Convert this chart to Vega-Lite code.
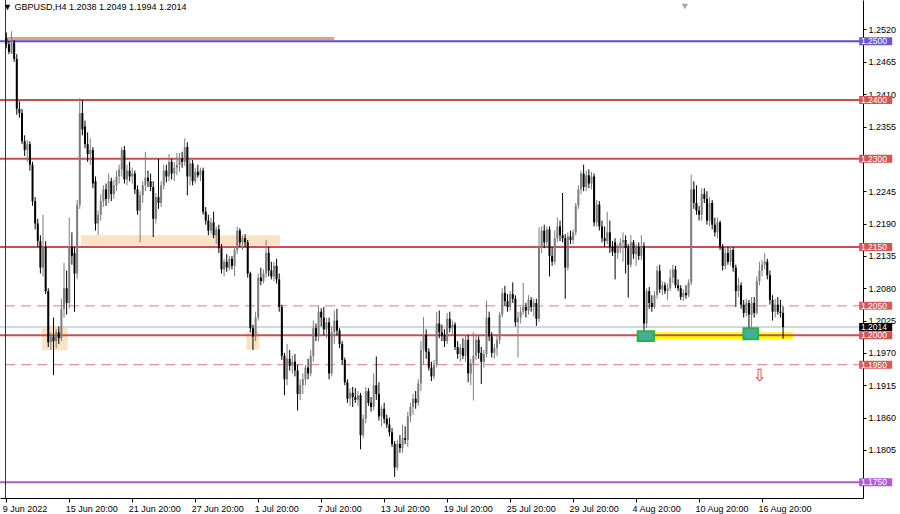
{
"$schema": "https://vega.github.io/schema/vega-lite/v6.json",
"width": 863, "height": 498,
"autosize": {"type": "none"},
"padding": {"left": 0, "top": 0, "right": 37, "bottom": 16},
"background": "#ffffff",
"config": {"view": {"stroke": null}, "font": "Liberation Sans", "axis": {"labelOverlap": false}},
"title": {"text": "▼ GBPUSD,H4  1.2038 1.2049 1.1994 1.2014", "anchor": "start", "frame": "group", "orient": "top", "offset": -12, "dx": 3, "fontSize": 9, "fontWeight": "normal", "font": "Liberation Sans", "color": "#000000"},
"datasets": {
"candles": [
{"i":0,"o":1.2505,"h":1.2515,"l":1.2488,"c":1.2495},
{"i":1,"o":1.2495,"h":1.2500,"l":1.2478,"c":1.2482},
{"i":2,"o":1.2480,"h":1.2517,"l":1.2478,"c":1.2498},
{"i":3,"o":1.2498,"h":1.2502,"l":1.2465,"c":1.2470},
{"i":4,"o":1.2470,"h":1.2478,"l":1.2375,"c":1.2385},
{"i":5,"o":1.2385,"h":1.2398,"l":1.2370,"c":1.2378},
{"i":6,"o":1.2378,"h":1.2385,"l":1.2325,"c":1.2330},
{"i":7,"o":1.2330,"h":1.2340,"l":1.2305,"c":1.2315},
{"i":8,"o":1.2315,"h":1.2332,"l":1.2295,"c":1.2325},
{"i":9,"o":1.2325,"h":1.2330,"l":1.2280,"c":1.2290},
{"i":10,"o":1.2290,"h":1.2295,"l":1.2220,"c":1.2228},
{"i":11,"o":1.2228,"h":1.2235,"l":1.2180,"c":1.2190},
{"i":12,"o":1.2190,"h":1.2198,"l":1.2150,"c":1.2160},
{"i":13,"o":1.2160,"h":1.2170,"l":1.2105,"c":1.2115},
{"i":14,"o":1.2115,"h":1.2205,"l":1.2100,"c":1.2150},
{"i":15,"o":1.2150,"h":1.2160,"l":1.2070,"c":1.2075},
{"i":16,"o":1.2075,"h":1.2080,"l":1.1980,"c":1.1988},
{"i":17,"o":1.1988,"h":1.2005,"l":1.1975,"c":1.1998},
{"i":18,"o":1.1998,"h":1.2030,"l":1.1932,"c":1.1990},
{"i":19,"o":1.1990,"h":1.2010,"l":1.1978,"c":1.2005},
{"i":20,"o":1.2005,"h":1.2015,"l":1.1985,"c":1.1995},
{"i":21,"o":1.1995,"h":1.2062,"l":1.1990,"c":1.2045},
{"i":22,"o":1.2045,"h":1.2123,"l":1.2030,"c":1.2080},
{"i":23,"o":1.2080,"h":1.2110,"l":1.2035,"c":1.2055},
{"i":24,"o":1.2055,"h":1.2200,"l":1.2045,"c":1.2150},
{"i":25,"o":1.2150,"h":1.2175,"l":1.2120,"c":1.2135},
{"i":26,"o":1.2140,"h":1.2150,"l":1.2040,"c":1.2105},
{"i":27,"o":1.2105,"h":1.2230,"l":1.2095,"c":1.2222},
{"i":28,"o":1.2222,"h":1.2403,"l":1.2215,"c":1.2378},
{"i":29,"o":1.2378,"h":1.2400,"l":1.2340,"c":1.2350},
{"i":30,"o":1.2355,"h":1.2365,"l":1.2318,"c":1.2325},
{"i":31,"o":1.2325,"h":1.2345,"l":1.2295,"c":1.2308},
{"i":32,"o":1.2308,"h":1.2335,"l":1.2290,"c":1.2315},
{"i":33,"o":1.2315,"h":1.2320,"l":1.2250,"c":1.2258},
{"i":34,"o":1.2262,"h":1.2270,"l":1.2178,"c":1.2190},
{"i":35,"o":1.2190,"h":1.2212,"l":1.2170,"c":1.2205},
{"i":36,"o":1.2205,"h":1.2240,"l":1.2195,"c":1.2228},
{"i":37,"o":1.2228,"h":1.2255,"l":1.2218,"c":1.2248},
{"i":38,"o":1.2248,"h":1.2258,"l":1.2220,"c":1.2232},
{"i":39,"o":1.2232,"h":1.2275,"l":1.2225,"c":1.2262},
{"i":40,"o":1.2262,"h":1.2268,"l":1.2228,"c":1.2240},
{"i":41,"o":1.2240,"h":1.2265,"l":1.2232,"c":1.2255},
{"i":42,"o":1.2255,"h":1.2280,"l":1.2245,"c":1.2270},
{"i":43,"o":1.2270,"h":1.2290,"l":1.2258,"c":1.2282},
{"i":44,"o":1.2282,"h":1.2320,"l":1.2270,"c":1.2315},
{"i":45,"o":1.2315,"h":1.2322,"l":1.2258,"c":1.2265},
{"i":46,"o":1.2265,"h":1.2290,"l":1.2255,"c":1.2280},
{"i":47,"o":1.2280,"h":1.2295,"l":1.2262,"c":1.2270},
{"i":48,"o":1.2270,"h":1.2285,"l":1.2258,"c":1.2275},
{"i":49,"o":1.2275,"h":1.2280,"l":1.2240,"c":1.2248},
{"i":50,"o":1.2248,"h":1.2255,"l":1.2205,"c":1.2212},
{"i":51,"o":1.2212,"h":1.2245,"l":1.2158,"c":1.2238},
{"i":52,"o":1.2238,"h":1.2262,"l":1.2225,"c":1.2255},
{"i":53,"o":1.2255,"h":1.2312,"l":1.2245,"c":1.2268},
{"i":54,"o":1.2268,"h":1.2280,"l":1.2252,"c":1.2262},
{"i":55,"o":1.2262,"h":1.2275,"l":1.2245,"c":1.2252},
{"i":56,"o":1.2252,"h":1.2262,"l":1.2167,"c":1.2198},
{"i":57,"o":1.2198,"h":1.2242,"l":1.2190,"c":1.2235},
{"i":58,"o":1.2235,"h":1.2300,"l":1.2215,"c":1.2225},
{"i":59,"o":1.2225,"h":1.2262,"l":1.2218,"c":1.2255},
{"i":60,"o":1.2255,"h":1.2290,"l":1.2248,"c":1.2280},
{"i":61,"o":1.2280,"h":1.2290,"l":1.2260,"c":1.2270},
{"i":62,"o":1.2270,"h":1.2308,"l":1.2262,"c":1.2295},
{"i":63,"o":1.2295,"h":1.2300,"l":1.2265,"c":1.2275},
{"i":64,"o":1.2275,"h":1.2295,"l":1.2262,"c":1.2285},
{"i":65,"o":1.2285,"h":1.2310,"l":1.2272,"c":1.2290},
{"i":66,"o":1.2290,"h":1.2310,"l":1.2278,"c":1.2300},
{"i":67,"o":1.2300,"h":1.2312,"l":1.2285,"c":1.2295},
{"i":68,"o":1.2295,"h":1.2335,"l":1.2288,"c":1.2320},
{"i":69,"o":1.2320,"h":1.2328,"l":1.2238,"c":1.2270},
{"i":70,"o":1.2270,"h":1.2302,"l":1.2255,"c":1.2292},
{"i":71,"o":1.2292,"h":1.2298,"l":1.2255,"c":1.2262},
{"i":72,"o":1.2262,"h":1.2285,"l":1.2258,"c":1.2278},
{"i":73,"o":1.2278,"h":1.2290,"l":1.2268,"c":1.2272},
{"i":74,"o":1.2272,"h":1.2285,"l":1.2262,"c":1.2280},
{"i":75,"o":1.2280,"h":1.2285,"l":1.2205,"c":1.2210},
{"i":76,"o":1.2210,"h":1.2218,"l":1.2188,"c":1.2195},
{"i":77,"o":1.2195,"h":1.2205,"l":1.2170,"c":1.2178},
{"i":78,"o":1.2178,"h":1.2200,"l":1.2172,"c":1.2192},
{"i":79,"o":1.2192,"h":1.2210,"l":1.2165,"c":1.2170},
{"i":80,"o":1.2170,"h":1.2185,"l":1.2155,"c":1.2180},
{"i":81,"o":1.2180,"h":1.2188,"l":1.2140,"c":1.2148},
{"i":82,"o":1.2148,"h":1.2155,"l":1.2105,"c":1.2112},
{"i":83,"o":1.2112,"h":1.2130,"l":1.2100,"c":1.2125},
{"i":84,"o":1.2125,"h":1.2138,"l":1.2108,"c":1.2115},
{"i":85,"o":1.2115,"h":1.2135,"l":1.2110,"c":1.2130},
{"i":86,"o":1.2130,"h":1.2135,"l":1.2112,"c":1.2118},
{"i":87,"o":1.2118,"h":1.2150,"l":1.2100,"c":1.2145},
{"i":88,"o":1.2145,"h":1.2185,"l":1.2138,"c":1.2178},
{"i":89,"o":1.2178,"h":1.2182,"l":1.2150,"c":1.2158},
{"i":90,"o":1.2158,"h":1.2170,"l":1.2145,"c":1.2165},
{"i":91,"o":1.2165,"h":1.2172,"l":1.2150,"c":1.2158},
{"i":92,"o":1.2158,"h":1.2162,"l":1.2098,"c":1.2105},
{"i":93,"o":1.2105,"h":1.2108,"l":1.2005,"c":1.2012},
{"i":94,"o":1.2012,"h":1.2018,"l":1.1975,"c":1.1998},
{"i":95,"o":1.1998,"h":1.2040,"l":1.1990,"c":1.2030},
{"i":96,"o":1.2030,"h":1.2105,"l":1.2025,"c":1.2098},
{"i":97,"o":1.2098,"h":1.2115,"l":1.2085,"c":1.2092},
{"i":98,"o":1.2092,"h":1.2112,"l":1.2088,"c":1.2105},
{"i":99,"o":1.2105,"h":1.2162,"l":1.2098,"c":1.2140},
{"i":100,"o":1.2140,"h":1.2150,"l":1.2100,"c":1.2110},
{"i":101,"o":1.2110,"h":1.2125,"l":1.2095,"c":1.2100},
{"i":102,"o":1.2100,"h":1.2125,"l":1.2092,"c":1.2118},
{"i":103,"o":1.2118,"h":1.2130,"l":1.2088,"c":1.2095},
{"i":104,"o":1.2095,"h":1.2105,"l":1.2040,"c":1.2048},
{"i":105,"o":1.2048,"h":1.2052,"l":1.1958,"c":1.1965},
{"i":106,"o":1.1965,"h":1.1970,"l":1.1898,"c":1.1925},
{"i":107,"o":1.1925,"h":1.1985,"l":1.1915,"c":1.1960},
{"i":108,"o":1.1960,"h":1.1975,"l":1.1940,"c":1.1948},
{"i":109,"o":1.1948,"h":1.1965,"l":1.1935,"c":1.1955},
{"i":110,"o":1.1955,"h":1.1968,"l":1.1930,"c":1.1940},
{"i":111,"o":1.1940,"h":1.1950,"l":1.1872,"c":1.1900},
{"i":112,"o":1.1900,"h":1.1925,"l":1.1890,"c":1.1915},
{"i":113,"o":1.1915,"h":1.1935,"l":1.1900,"c":1.1925},
{"i":114,"o":1.1925,"h":1.1950,"l":1.1915,"c":1.1945},
{"i":115,"o":1.1945,"h":1.1960,"l":1.1925,"c":1.1935},
{"i":116,"o":1.1935,"h":1.1975,"l":1.1930,"c":1.1965},
{"i":117,"o":1.1965,"h":1.2025,"l":1.1955,"c":1.2012},
{"i":118,"o":1.2012,"h":1.2020,"l":1.1990,"c":1.1998},
{"i":119,"o":1.1998,"h":1.2050,"l":1.1990,"c":1.2040},
{"i":120,"o":1.2040,"h":1.2046,"l":1.2015,"c":1.2030},
{"i":121,"o":1.2030,"h":1.2048,"l":1.2000,"c":1.2010},
{"i":122,"o":1.2010,"h":1.2030,"l":1.1995,"c":1.2022},
{"i":123,"o":1.2022,"h":1.2030,"l":1.1925,"c":1.1935},
{"i":124,"o":1.1935,"h":1.2015,"l":1.1930,"c":1.2005},
{"i":125,"o":1.2005,"h":1.2042,"l":1.1985,"c":1.2025},
{"i":126,"o":1.2025,"h":1.2045,"l":1.2000,"c":1.2008},
{"i":127,"o":1.2008,"h":1.2012,"l":1.1978,"c":1.1985},
{"i":128,"o":1.1985,"h":1.1990,"l":1.1950,"c":1.1958},
{"i":129,"o":1.1958,"h":1.1962,"l":1.1915,"c":1.1920},
{"i":130,"o":1.1920,"h":1.1925,"l":1.1885,"c":1.1892},
{"i":131,"o":1.1892,"h":1.1910,"l":1.1880,"c":1.1902},
{"i":132,"o":1.1902,"h":1.1912,"l":1.1878,"c":1.1895},
{"i":133,"o":1.1895,"h":1.1910,"l":1.1885,"c":1.1890},
{"i":134,"o":1.1890,"h":1.1905,"l":1.1880,"c":1.1898},
{"i":135,"o":1.1898,"h":1.1902,"l":1.1806,"c":1.1830},
{"i":136,"o":1.1830,"h":1.1865,"l":1.1825,"c":1.1858},
{"i":137,"o":1.1858,"h":1.1912,"l":1.1850,"c":1.1905},
{"i":138,"o":1.1905,"h":1.1910,"l":1.1880,"c":1.1885},
{"i":139,"o":1.1885,"h":1.1895,"l":1.1870,"c":1.1878},
{"i":140,"o":1.1878,"h":1.1935,"l":1.1872,"c":1.1915},
{"i":141,"o":1.1915,"h":1.1964,"l":1.1890,"c":1.1900},
{"i":142,"o":1.1900,"h":1.1920,"l":1.1855,"c":1.1862},
{"i":143,"o":1.1862,"h":1.1880,"l":1.1845,"c":1.1875},
{"i":144,"o":1.1875,"h":1.1885,"l":1.1850,"c":1.1858},
{"i":145,"o":1.1858,"h":1.1865,"l":1.1842,"c":1.1848},
{"i":146,"o":1.1848,"h":1.1860,"l":1.1828,"c":1.1835},
{"i":147,"o":1.1835,"h":1.1842,"l":1.1810,"c":1.1815},
{"i":148,"o":1.1815,"h":1.1820,"l":1.1759,"c":1.1775},
{"i":149,"o":1.1775,"h":1.1822,"l":1.1770,"c":1.1815},
{"i":150,"o":1.1815,"h":1.1830,"l":1.1800,"c":1.1808},
{"i":151,"o":1.1808,"h":1.1848,"l":1.1800,"c":1.1825},
{"i":152,"o":1.1825,"h":1.1845,"l":1.1815,"c":1.1822},
{"i":153,"o":1.1822,"h":1.1870,"l":1.1810,"c":1.1862},
{"i":154,"o":1.1862,"h":1.1885,"l":1.1852,"c":1.1878},
{"i":155,"o":1.1878,"h":1.1900,"l":1.1865,"c":1.1892},
{"i":156,"o":1.1892,"h":1.1905,"l":1.1875,"c":1.1885},
{"i":157,"o":1.1885,"h":1.1925,"l":1.1880,"c":1.1918},
{"i":158,"o":1.1918,"h":1.1990,"l":1.1905,"c":1.1975},
{"i":159,"o":1.1975,"h":1.2031,"l":1.1950,"c":1.2000},
{"i":160,"o":1.2000,"h":1.2010,"l":1.1960,"c":1.1972},
{"i":161,"o":1.1972,"h":1.1978,"l":1.1940,"c":1.1945},
{"i":162,"o":1.1945,"h":1.1955,"l":1.1922,"c":1.1930},
{"i":163,"o":1.1930,"h":1.1958,"l":1.1925,"c":1.1950},
{"i":164,"o":1.1950,"h":1.2040,"l":1.1945,"c":1.2020},
{"i":165,"o":1.2020,"h":1.2042,"l":1.1995,"c":1.2005},
{"i":166,"o":1.2005,"h":1.2018,"l":1.1990,"c":1.2000},
{"i":167,"o":1.2000,"h":1.2010,"l":1.1980,"c":1.1990},
{"i":168,"o":1.1990,"h":1.2038,"l":1.1985,"c":1.2028},
{"i":169,"o":1.2028,"h":1.2040,"l":1.2005,"c":1.2012},
{"i":170,"o":1.2012,"h":1.2025,"l":1.2000,"c":1.2018},
{"i":171,"o":1.2018,"h":1.2022,"l":1.1975,"c":1.1980},
{"i":172,"o":1.1980,"h":1.1990,"l":1.1960,"c":1.1968},
{"i":173,"o":1.1968,"h":1.1985,"l":1.1955,"c":1.1978},
{"i":174,"o":1.1978,"h":1.1995,"l":1.1960,"c":1.1965},
{"i":175,"o":1.1965,"h":1.2000,"l":1.1955,"c":1.1992},
{"i":176,"o":1.1992,"h":1.2000,"l":1.1920,"c":1.1935},
{"i":177,"o":1.1935,"h":1.1960,"l":1.1915,"c":1.1952},
{"i":178,"o":1.1952,"h":1.2005,"l":1.1889,"c":1.1965},
{"i":179,"o":1.1965,"h":1.2000,"l":1.1958,"c":1.1992},
{"i":180,"o":1.1992,"h":1.1998,"l":1.1960,"c":1.1970},
{"i":181,"o":1.1970,"h":1.1980,"l":1.1917,"c":1.1955},
{"i":182,"o":1.1955,"h":1.1975,"l":1.1945,"c":1.1968},
{"i":183,"o":1.1968,"h":1.2059,"l":1.1962,"c":1.2030},
{"i":184,"o":1.2030,"h":1.2040,"l":1.1990,"c":1.1998},
{"i":185,"o":1.1998,"h":1.2005,"l":1.1962,"c":1.1970},
{"i":186,"o":1.1970,"h":1.1985,"l":1.1960,"c":1.1978},
{"i":187,"o":1.1978,"h":1.2000,"l":1.1965,"c":1.1992},
{"i":188,"o":1.1992,"h":1.2040,"l":1.1985,"c":1.2035},
{"i":189,"o":1.2035,"h":1.2080,"l":1.2030,"c":1.2072},
{"i":190,"o":1.2072,"h":1.2084,"l":1.2050,"c":1.2058},
{"i":191,"o":1.2058,"h":1.2070,"l":1.2040,"c":1.2048},
{"i":192,"o":1.2048,"h":1.2075,"l":1.2042,"c":1.2070},
{"i":193,"o":1.2070,"h":1.2090,"l":1.2055,"c":1.2062},
{"i":194,"o":1.2062,"h":1.2068,"l":1.2015,"c":1.2022},
{"i":195,"o":1.2022,"h":1.2040,"l":1.1962,"c":1.2030},
{"i":196,"o":1.2030,"h":1.2048,"l":1.2020,"c":1.2040},
{"i":197,"o":1.2040,"h":1.2089,"l":1.2035,"c":1.2048},
{"i":198,"o":1.2048,"h":1.2055,"l":1.2030,"c":1.2042},
{"i":199,"o":1.2042,"h":1.2068,"l":1.2035,"c":1.2060},
{"i":200,"o":1.2060,"h":1.2065,"l":1.2040,"c":1.2048},
{"i":201,"o":1.2048,"h":1.2062,"l":1.2032,"c":1.2055},
{"i":202,"o":1.2055,"h":1.2062,"l":1.2016,"c":1.2028},
{"i":203,"o":1.2028,"h":1.2184,"l":1.2022,"c":1.2150},
{"i":204,"o":1.2150,"h":1.2185,"l":1.2140,"c":1.2178},
{"i":205,"o":1.2178,"h":1.2188,"l":1.2148,"c":1.2158},
{"i":206,"o":1.2158,"h":1.2185,"l":1.2150,"c":1.2180},
{"i":207,"o":1.2180,"h":1.2185,"l":1.2100,"c":1.2135},
{"i":208,"o":1.2135,"h":1.2150,"l":1.2118,"c":1.2125},
{"i":209,"o":1.2125,"h":1.2178,"l":1.2120,"c":1.2165},
{"i":210,"o":1.2165,"h":1.2200,"l":1.2158,"c":1.2185},
{"i":211,"o":1.2185,"h":1.2195,"l":1.2160,"c":1.2170},
{"i":212,"o":1.2170,"h":1.2242,"l":1.2158,"c":1.2165},
{"i":213,"o":1.2165,"h":1.2172,"l":1.2062,"c":1.2115},
{"i":214,"o":1.2115,"h":1.2175,"l":1.2110,"c":1.2168},
{"i":215,"o":1.2168,"h":1.2178,"l":1.2155,"c":1.2162},
{"i":216,"o":1.2162,"h":1.2180,"l":1.2155,"c":1.2175},
{"i":217,"o":1.2175,"h":1.2225,"l":1.2170,"c":1.2220},
{"i":218,"o":1.2220,"h":1.2255,"l":1.2215,"c":1.2248},
{"i":219,"o":1.2248,"h":1.2280,"l":1.2240,"c":1.2275},
{"i":220,"o":1.2275,"h":1.2290,"l":1.2245,"c":1.2252},
{"i":221,"o":1.2252,"h":1.2280,"l":1.2245,"c":1.2272},
{"i":222,"o":1.2272,"h":1.2282,"l":1.2250,"c":1.2258},
{"i":223,"o":1.2258,"h":1.2278,"l":1.2248,"c":1.2270},
{"i":224,"o":1.2270,"h":1.2275,"l":1.2185,"c":1.2192},
{"i":225,"o":1.2192,"h":1.2230,"l":1.2185,"c":1.2222},
{"i":226,"o":1.2222,"h":1.2228,"l":1.2178,"c":1.2185},
{"i":227,"o":1.2185,"h":1.2195,"l":1.2158,"c":1.2165},
{"i":228,"o":1.2165,"h":1.2185,"l":1.2150,"c":1.2160},
{"i":229,"o":1.2160,"h":1.2210,"l":1.2155,"c":1.2175},
{"i":230,"o":1.2175,"h":1.2195,"l":1.2140,"c":1.2150},
{"i":231,"o":1.2150,"h":1.2160,"l":1.2135,"c":1.2142},
{"i":232,"o":1.2158,"h":1.2165,"l":1.2095,"c":1.2140},
{"i":233,"o":1.2140,"h":1.2155,"l":1.2130,"c":1.2148},
{"i":234,"o":1.2148,"h":1.2165,"l":1.2140,"c":1.2158},
{"i":235,"o":1.2158,"h":1.2175,"l":1.2125,"c":1.2162},
{"i":236,"o":1.2162,"h":1.2170,"l":1.2105,"c":1.2148},
{"i":237,"o":1.2148,"h":1.2155,"l":1.2064,"c":1.2120},
{"i":238,"o":1.2120,"h":1.2170,"l":1.2115,"c":1.2158},
{"i":239,"o":1.2158,"h":1.2162,"l":1.2130,"c":1.2138},
{"i":240,"o":1.2138,"h":1.2155,"l":1.2118,"c":1.2150},
{"i":241,"o":1.2150,"h":1.2158,"l":1.2128,"c":1.2135},
{"i":242,"o":1.2135,"h":1.2170,"l":1.2128,"c":1.2152},
{"i":243,"o":1.2152,"h":1.2158,"l":1.2003,"c":1.2020},
{"i":244,"o":1.2020,"h":1.2080,"l":1.2012,"c":1.2075},
{"i":245,"o":1.2075,"h":1.2082,"l":1.2045,"c":1.2055},
{"i":246,"o":1.2055,"h":1.2068,"l":1.2040,"c":1.2048},
{"i":247,"o":1.2048,"h":1.2075,"l":1.2045,"c":1.2068},
{"i":248,"o":1.2068,"h":1.2118,"l":1.2062,"c":1.2110},
{"i":249,"o":1.2110,"h":1.2120,"l":1.2072,"c":1.2078},
{"i":250,"o":1.2078,"h":1.2092,"l":1.2068,"c":1.2085},
{"i":251,"o":1.2085,"h":1.2090,"l":1.2070,"c":1.2075},
{"i":252,"o":1.2075,"h":1.2088,"l":1.2060,"c":1.2080},
{"i":253,"o":1.2080,"h":1.2112,"l":1.2075,"c":1.2098},
{"i":254,"o":1.2098,"h":1.2120,"l":1.2088,"c":1.2112},
{"i":255,"o":1.2112,"h":1.2118,"l":1.2080,"c":1.2085},
{"i":256,"o":1.2085,"h":1.2095,"l":1.2075,"c":1.2080},
{"i":257,"o":1.2080,"h":1.2085,"l":1.2060,"c":1.2065},
{"i":258,"o":1.2065,"h":1.2078,"l":1.2058,"c":1.2072},
{"i":259,"o":1.2072,"h":1.2085,"l":1.2062,"c":1.2068},
{"i":260,"o":1.2068,"h":1.2095,"l":1.2065,"c":1.2090},
{"i":261,"o":1.2090,"h":1.2273,"l":1.2085,"c":1.2248},
{"i":262,"o":1.2248,"h":1.2262,"l":1.2215,"c":1.2225},
{"i":263,"o":1.2225,"h":1.2255,"l":1.2205,"c":1.2212},
{"i":264,"o":1.2212,"h":1.2220,"l":1.2195,"c":1.2205},
{"i":265,"o":1.2205,"h":1.2250,"l":1.2195,"c":1.2240},
{"i":266,"o":1.2240,"h":1.2250,"l":1.2225,"c":1.2232},
{"i":267,"o":1.2232,"h":1.2245,"l":1.2188,"c":1.2195},
{"i":268,"o":1.2195,"h":1.2235,"l":1.2185,"c":1.2225},
{"i":269,"o":1.2225,"h":1.2230,"l":1.2180,"c":1.2188},
{"i":270,"o":1.2188,"h":1.2200,"l":1.2168,"c":1.2175},
{"i":271,"o":1.2175,"h":1.2200,"l":1.2165,"c":1.2192},
{"i":272,"o":1.2192,"h":1.2195,"l":1.2145,"c":1.2150},
{"i":273,"o":1.2150,"h":1.2155,"l":1.2110,"c":1.2118},
{"i":274,"o":1.2118,"h":1.2148,"l":1.2112,"c":1.2140},
{"i":275,"o":1.2140,"h":1.2150,"l":1.2120,"c":1.2125},
{"i":276,"o":1.2125,"h":1.2152,"l":1.2118,"c":1.2145},
{"i":277,"o":1.2145,"h":1.2150,"l":1.2108,"c":1.2115},
{"i":278,"o":1.2115,"h":1.2120,"l":1.2048,"c":1.2075},
{"i":279,"o":1.2075,"h":1.2098,"l":1.2065,"c":1.2085},
{"i":280,"o":1.2085,"h":1.2090,"l":1.2045,"c":1.2052},
{"i":281,"o":1.2052,"h":1.2060,"l":1.2030,"c":1.2038},
{"i":282,"o":1.2038,"h":1.2062,"l":1.2032,"c":1.2055},
{"i":283,"o":1.2055,"h":1.2060,"l":1.2009,"c":1.2035},
{"i":284,"o":1.2035,"h":1.2065,"l":1.2008,"c":1.2055},
{"i":285,"o":1.2055,"h":1.2065,"l":1.2030,"c":1.2038},
{"i":286,"o":1.2038,"h":1.2100,"l":1.2035,"c":1.2092},
{"i":287,"o":1.2092,"h":1.2125,"l":1.2085,"c":1.2110},
{"i":288,"o":1.2110,"h":1.2128,"l":1.2100,"c":1.2120},
{"i":289,"o":1.2120,"h":1.2140,"l":1.2112,"c":1.2125},
{"i":290,"o":1.2125,"h":1.2130,"l":1.2095,"c":1.2102},
{"i":291,"o":1.2102,"h":1.2110,"l":1.2052,"c":1.2060},
{"i":292,"o":1.2060,"h":1.2068,"l":1.2025,"c":1.2040},
{"i":293,"o":1.2040,"h":1.2062,"l":1.2030,"c":1.2052},
{"i":294,"o":1.2052,"h":1.2065,"l":1.2035,"c":1.2040},
{"i":295,"o":1.2040,"h":1.2060,"l":1.2030,"c":1.2038},
{"i":296,"o":1.2038,"h":1.2049,"l":1.1994,"c":1.2014}
],
"levels": [
{"p":1.2500,"kind":"blue","label":"1.2500"},
{"p":1.2400,"kind":"red","label":"1.2400"},
{"p":1.2300,"kind":"red","label":"1.2300"},
{"p":1.2150,"kind":"red","label":"1.2150"},
{"p":1.2050,"kind":"dash","label":"1.2050"},
{"p":1.2014,"kind":"current","label":"1.2014"},
{"p":1.2000,"kind":"redbold","label":"1.2000"},
{"p":1.1950,"kind":"dash","label":"1.1950"},
{"p":1.1750,"kind":"purple","label":"1.1750"}
],
"zones": [
{"x0":28.5,"x1":104.3,"p0":1.2153,"p1":1.2170,"kind":"tan"},
{"x0":13.6,"x1":23.4,"p0":1.19745,"p1":1.20145,"kind":"tan"},
{"x0":91.5,"x1":96.4,"p0":1.19755,"p1":1.20062,"kind":"tan"},
{"x0":240.6,"x1":299.7,"p0":1.19933,"p1":1.2005,"kind":"yellow"},
{"x0":240.6,"x1":246.8,"p0":1.1990,"p1":1.20067,"kind":"green"},
{"x0":280.9,"x1":286.5,"p0":1.19933,"p1":1.20117,"kind":"green"}
],
"segments": [{"x0":-0.49,"x1":124.9,"p":1.25045}],
"marks": [{"i":287.1,"p":1.1930,"t":"⇩"}],
"shift": [{"i":258.6,"p":1.2559}]
},
"layer": [
{
"data": {"name": "candles"},
"mark": {"type": "rule", "strokeWidth": 1, "opacity": 0},
"encoding": {
"x": {"field": "i", "type": "quantitative",
"scale": {"domain": [-0.49, 324.56], "nice": false, "zero": false},
"axis": {"orient": "bottom", "title": null, "grid": false, "zindex": 0, "tickCount": 30, "values": [0, 24, 48, 72, 96, 120, 144, 168, 192, 216, 240, 264, 288],
"labelExpr": "['9 Jun 2022','15 Jun 20:00','21 Jun 20:00','27 Jun 20:00','1 Jul 20:00','7 Jul 20:00','13 Jul 20:00','19 Jul 20:00','25 Jul 20:00','29 Jul 20:00','4 Aug 20:00','10 Aug 20:00','16 Aug 20:00'][round(datum.value/24)]",
"labelAlign": "left", "labelBaseline": "top", "labelPadding": 2, "labelOffset": -4, "tickSize": 4, "tickColor": "#000000", "domainColor": "#000000", "labelColor": "#000000", "labelFontSize": 9, "labelFont": "Liberation Sans", "labelOverlap": false, "labelFlush": false, "labelBound": false}},
"y": {"field": "l", "type": "quantitative",
"scale": {"domain": [1.173167, 1.256167], "nice": false, "zero": false},
"axis": {"orient": "right", "title": null, "grid": false, "zindex": 0, "tickCount": 30, "values": [1.2520, 1.2465, 1.2410, 1.2355, 1.2245, 1.2190, 1.2135, 1.2080, 1.2025, 1.1970, 1.1915, 1.1860, 1.1805], "format": ".4f",
"tickSize": 3, "labelPadding": 2, "tickColor": "#000000", "domainColor": "#000000", "labelColor": "#000000", "labelFontSize": 9, "labelFont": "Liberation Sans", "labelOverlap": false, "labelFlush": false, "labelBound": false}},
"y2": {"field": "h"}
}
},
{
"data": {"name": "zones"},
"transform": [{"filter": "datum.kind != 'green'"}],
"mark": {"type": "rect"},
"encoding": {
"x": {"field": "x0", "type": "quantitative"},
"x2": {"field": "x1"},
"y": {"field": "p0", "type": "quantitative"},
"y2": {"field": "p1"},
"fill": {"field": "kind", "type": "nominal", "scale": {"domain": ["tan", "yellow"], "range": ["#fae2c5", "#ffff00"]}, "legend": null}
}
},
{
"data": {"name": "segments"},
"mark": {"type": "rule", "color": "#f2958a", "strokeWidth": 3},
"encoding": {
"x": {"field": "x0", "type": "quantitative"},
"x2": {"field": "x1"},
"y": {"field": "p", "type": "quantitative"}
}
},
{
"data": {"name": "levels"},
"transform": [{"filter": "datum.kind != 'dash'"}],
"mark": {"type": "rule"},
"encoding": {
"y": {"field": "p", "type": "quantitative"},
"stroke": {"field": "kind", "type": "nominal", "scale": {"domain": ["blue", "red", "redbold", "current", "purple"], "range": ["#5b4fcc", "#c8504e", "#c8504e", "#d5d9d5", "#b457d4"]}, "legend": null},
"strokeWidth": {"field": "kind", "type": "nominal", "scale": {"domain": ["blue", "red", "redbold", "current", "purple"], "range": [2, 2, 3, 2, 2]}, "legend": null}
}
},
{
"data": {"name": "levels"},
"transform": [{"filter": "datum.kind == 'dash'"}],
"mark": {"type": "rule", "color": "#e08080", "strokeWidth": 1, "strokeDash": [10, 6]},
"encoding": {
"y": {"field": "p", "type": "quantitative"}
}
},
{
"data": {"values": [{}]},
"mark": {"type": "rule", "color": "#333333", "strokeWidth": 1},
"encoding": {"x": {"datum": -0.3, "type": "quantitative"}}
},
{
"data": {"name": "candles"},
"mark": {"type": "rule", "strokeWidth": 1},
"encoding": {
"x": {"field": "i", "type": "quantitative"},
"y": {"field": "l", "type": "quantitative"},
"y2": {"field": "h"},
"color": {"condition": {"test": "datum.c >= datum.o", "value": "#7d7d7d"}, "value": "#000000"}
}
},
{
"data": {"name": "candles"},
"mark": {"type": "bar", "size": 2},
"encoding": {
"x": {"field": "i", "type": "quantitative"},
"y": {"field": "o", "type": "quantitative"},
"y2": {"field": "c"},
"color": {"condition": {"test": "datum.c >= datum.o", "value": "#7d7d7d"}, "value": "#000000"}
}
},
{
"data": {"name": "zones"},
"transform": [{"filter": "datum.kind == 'green'"}],
"mark": {"type": "rect", "fill": "#45ad9e", "stroke": "#27b34a", "strokeWidth": 2},
"encoding": {
"x": {"field": "x0", "type": "quantitative"},
"x2": {"field": "x1"},
"y": {"field": "p0", "type": "quantitative"},
"y2": {"field": "p1"}
}
},
{
"data": {"name": "marks"},
"mark": {"type": "text", "color": "#e04848", "fontSize": 17, "font": "DejaVu Sans", "align": "center", "baseline": "middle"},
"encoding": {
"x": {"field": "i", "type": "quantitative"},
"y": {"field": "p", "type": "quantitative"},
"text": {"field": "t"}
}
},
{
"data": {"name": "shift"},
"mark": {"type": "point", "shape": "triangle-down", "filled": true, "size": 40, "color": "#a6a6a6", "opacity": 1},
"encoding": {
"x": {"field": "i", "type": "quantitative"},
"y": {"field": "p", "type": "quantitative"}
}
},
{
"data": {"name": "levels"},
"mark": {"type": "bar", "size": 8},
"encoding": {
"x": {"datum": 325, "type": "quantitative"},
"x2": {"datum": 337.6},
"y": {"field": "p", "type": "quantitative"},
"color": {"field": "kind", "type": "nominal", "scale": {"domain": ["blue", "red", "redbold", "dash", "current", "purple"], "range": ["#6a5acd", "#d05656", "#d05656", "#d65c5c", "#000000", "#b557d9"]}, "legend": null}
}
},
{
"data": {"name": "levels"},
"mark": {"type": "text", "align": "left", "baseline": "middle", "color": "#ffffff", "fontSize": 8.5, "font": "Liberation Sans"},
"encoding": {
"x": {"datum": 325.7, "type": "quantitative"},
"y": {"field": "p", "type": "quantitative"},
"text": {"field": "label"}
}
}
]
}
